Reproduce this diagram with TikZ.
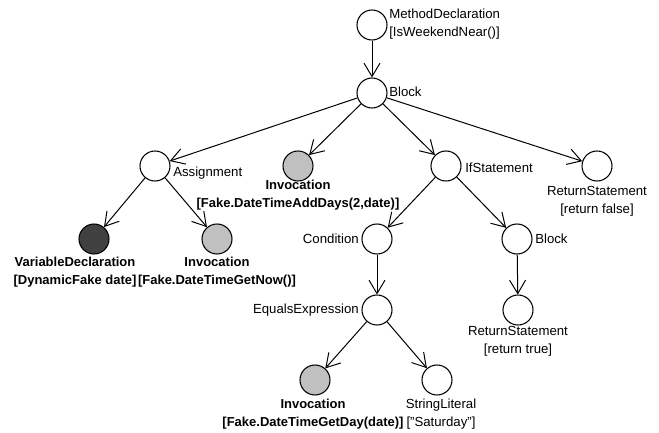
\documentclass[tikz,border=0pt]{standalone}
\usepackage{fontspec}
\setmainfont{Liberation Sans}
\usetikzlibrary{positioning,arrows.meta}

\definecolor{invfill}{RGB}{192,192,192}
\definecolor{declfill}{RGB}{64,64,64}

\begin{document}
\begin{tikzpicture}[x=0.75pt,y=-0.75pt,
        vertex/.style={circle,draw,line width=0.8pt,minimum size=30*0.75pt,inner sep=0pt},
        inv/.style={vertex,fill=invfill},
        decl/.style={vertex,fill=declfill},
        txt/.style={inner sep=0pt,align=center,font=\fontsize{9.9}{13.2}\selectfont},
        btxt/.style={txt,font=\fontsize{9.75}{13.2}\selectfont\bfseries},
        edge/.style={line width=0.75pt,-{Straight Barb[length=10pt,width=12pt,line width=0.75pt]}}]
        \useasboundingbox (0,0) rectangle (659,432);

        \draw (372,25) node[vertex] (md) {};

        \draw (372,93) node[vertex] (blk) {};

        \draw (155,166) node[vertex] (asg) {};

        \draw (298,166) node[inv] (inv1) {};

        \draw (446,166) node[vertex] (ifs) {};

        \draw (597,166) node[vertex] (ret1) {};

        \draw (94,239) node[decl] (var) {};

        \draw (217,239) node[inv] (inv2) {};

        \draw (377,239) node[vertex] (cond) {};

        \draw (517,239) node[vertex] (blk2) {};

        \draw (377,310) node[vertex] (eqx) {};

        \draw (518,310) node[vertex] (ret2) {};

        \draw (315,380) node[inv] (inv3) {};

        \draw (437,380) node[vertex] (str) {};

        % labels
        \draw (389,24) node[txt,anchor=west,align=left] (mdtext)
        {MethodDeclaration\\{}[IsWeekendNear()]};

        \draw (389,92) node[txt,anchor=west] (blktext) {Block};

        \draw (173,173) node[txt,anchor=west] (asgtext) {Assignment};

        \draw (298,195) node[btxt] (inv1text) {Invocation\\{}[Fake.DateTimeAddDays(2,date)]};

        \draw (465,168) node[txt,anchor=west] (ifstext) {IfStatement};

        \draw (597,201) node[txt] (ret1text) {ReturnStatement\\{}[return false]};

        \draw (75,272) node[btxt] (vartext) {VariableDeclaration\\{}[DynamicFake date]};

        \draw (217,272) node[btxt] (inv2text) {Invocation\\{}[Fake.DateTimeGetNow()]};

        \draw (359,239) node[txt,anchor=east] (condtext) {Condition};

        \draw (535,239) node[txt,anchor=west] (blk2text) {Block};

        \draw (359,310) node[txt,anchor=east] (eqxtext) {EqualsExpression};

        \draw (518,341) node[txt] (ret2text) {ReturnStatement\\{}[return true]};

        \draw (313,414) node[btxt] (inv3text) {Invocation\\{}[Fake.DateTimeGetDay(date)]};

        \draw (441,414) node[txt] (strtext) {StringLiteral\\{}["Saturday"]};

        % edges
        \draw[edge] (md) to (blk);

        \draw[edge] (blk) to (asg);

        \draw[edge] (blk) to (inv1);

        \draw[edge] (blk) to (ifs);

        \draw[edge] (blk) to (ret1);

        \draw[edge] (asg) to (var);

        \draw[edge] (asg) to (inv2);

        \draw[edge] (ifs) to (cond);

        \draw[edge] (ifs) to (blk2);

        \draw[edge] (cond) to (eqx);

        \draw[edge] (blk2) to (ret2);

        \draw[edge] (eqx) to (inv3);

        \draw[edge] (eqx) to (str);
      \end{tikzpicture}
\end{document}
